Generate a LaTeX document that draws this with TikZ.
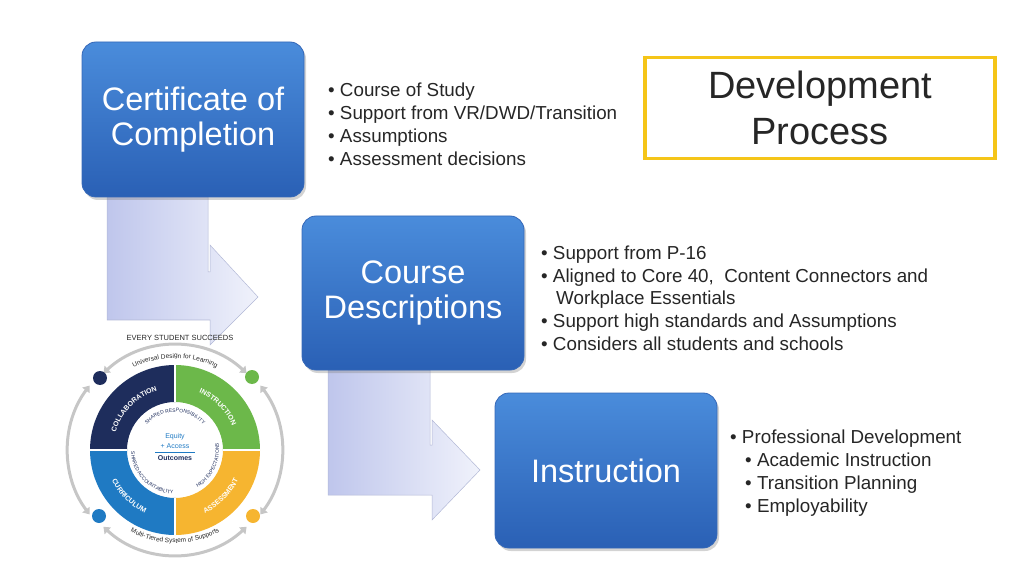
\documentclass[tikz,border=0pt]{standalone}
\usepackage{fontspec}
\setmainfont{Liberation Sans}
\usetikzlibrary{decorations.text,arrows.meta,shadows}
\definecolor{bxtop}{HTML}{4A8CDB}
\definecolor{bxbot}{HTML}{2A60B5}
\definecolor{bxdraw}{HTML}{3568B8}
\definecolor{arrl}{HTML}{BFC6EC}
\definecolor{arrr}{HTML}{F0F2FB}
\definecolor{navyq}{HTML}{1E2D5C}
\definecolor{greenq}{HTML}{6CB84A}
\definecolor{blueq}{HTML}{1F7AC3}
\definecolor{yellowq}{HTML}{F6B530}
\definecolor{goldb}{HTML}{F5C518}
\definecolor{txt}{HTML}{262626}
\begin{document}
\begin{tikzpicture}[x=1pt,y=1pt,
  bluebox/.style={rounded corners=14pt,top color=bxtop,bottom color=bxbot,draw=bxdraw,line width=0.8pt,
    drop shadow={shadow xshift=2pt,shadow yshift=-3pt,opacity=0.35},
    text=white,font=\fontsize{32.5}{35}\selectfont,align=center,inner sep=0pt},
  bl/.style={anchor=base west,yshift=-7pt,font=\fontsize{18.8}{20}\selectfont,text=txt,inner sep=0pt},
  bentarrow/.style={left color=arrl,right color=arrr,draw=arrl!80!gray,line width=0.5pt},
  ringtxt/.style={decorate,decoration={text along path,text align=center}}]
\useasboundingbox (0,0) rectangle (1024,576);
% bent arrows
\path[bentarrow] (107,379)--(208,379)--(208,304)--(210,304)--(210,331)--(258,279)--(210,231)--(210,256)--(107,256)--cycle;
\path[bentarrow] (328,206)--(430,206)--(430,131)--(432,131)--(432,156)--(480,106)--(432,56)--(432,81)--(328,81)--cycle;
% boxes
\node[bluebox,minimum width=222pt,minimum height=155pt] (cert) at (193,456.5) {Certificate of\\Completion};
\node[bluebox,minimum width=222pt,minimum height=154pt] (desc) at (413,283) {Course\\Descriptions};
\node[bluebox,minimum width=222pt,minimum height=155pt] (inst) at (606,105.5) {Instruction};
% title box
\node[draw=goldb,line width=3.5pt,minimum width=350pt,minimum height=101pt,fill=white,
  font=\fontsize{38}{46}\selectfont,text=txt,align=center] (title) at (820,468) {Development\\Process};
% bullets
\node[bl] (b1) at (328,486) {• Course of Study};
\node[bl] (b2) at (328,463) {• Support from VR/DWD/Transition};
\node[bl] (b3) at (328,440) {• Assumptions};
\node[bl] (b4) at (328,417) {• Assessment decisions};
\node[bl] (c1) at (541,323) {• Support from P-16};
\node[bl] (c2) at (541,300) {• Aligned to Core 40,\ \ Content Connectors and};
\node[bl] (c3) at (556,279) {Workplace Essentials};
\node[bl] (c4) at (541,256) {• Support high standards and Assumptions};
\node[bl] (c5) at (541,233) {• Considers all students and schools};
\node[bl] (d1) at (730,140) {• Professional Development};
\node[bl] (d2) at (745,117) {• Academic Instruction};
\node[bl] (d3) at (745,94) {• Transition Planning};
\node[bl] (d4) at (745,71) {• Employability};
% ESSA graphic
\node[font=\fontsize{7.5}{8}\selectfont,text=txt] (ess) at (180,238) {EVERY STUDENT SUCCEEDS};
\begin{scope}[shift={(175,126)}]
  \fill[navyq] (90:85) arc (90:180:85) -- (180:48) arc (180:90:48) -- cycle;
  \fill[greenq] (0:85) arc (0:90:85) -- (90:48) arc (90:0:48) -- cycle;
  \fill[blueq] (180:85) arc (180:270:85) -- (270:48) arc (270:180:48) -- cycle;
  \fill[yellowq] (270:85) arc (270:360:85) -- (0:48) arc (0:-90:48) -- cycle;
  \draw[white,line width=1.5pt] (0,48)--(0,85) (0,-48)--(0,-85) (48,0)--(85,0) (-48,0)--(-85,0);
  \path[ringtxt,decoration={text={|\fontsize{7}{7}\selectfont\bfseries\color{white}|COLLABORATION}}] (170:62) arc (170:100:62);
  \path[ringtxt,decoration={text={|\fontsize{7}{7}\selectfont\bfseries\color{white}|INSTRUCTION}}] (80:62) arc (80:10:62);
  \path[ringtxt,decoration={text={|\fontsize{7}{7}\selectfont\bfseries\color{white}|CURRICULUM}}] (190:70) arc (190:260:70);
  \path[ringtxt,decoration={text={|\fontsize{7}{7}\selectfont\bfseries\color{white}|ASSESSMENT}}] (280:70) arc (280:350:70);
  \path[ringtxt,decoration={text={|\fontsize{5}{5}\selectfont\color{navyq}|SHARED RESPONSIBILITY}}] (155:38) arc (155:25:38);
  \path[ringtxt,decoration={text={|\fontsize{5}{5}\selectfont\color{navyq}|HIGH EXPECTATIONS}}] (290:44) arc (290:380:44);
  \path[ringtxt,decoration={text={|\fontsize{5}{5}\selectfont\color{navyq}|SHARED ACCOUNTABILITY}}] (170:44) arc (170:280:44);
  \node[font=\fontsize{7}{7}\selectfont,text=blueq] (eq) at (0,13) {Equity};
  \node[font=\fontsize{7}{7}\selectfont,text=blueq] (acc) at (0,4) {+ Access};
  \draw[blueq,line width=0.6pt] (-20,-2)--(20,-2);
  \node[font=\fontsize{7}{7}\selectfont\bfseries,text=navyq] (out) at (0,-8) {Outcomes};
  \path[ringtxt,decoration={text={|\fontsize{6.5}{6.5}\selectfont\color{txt}|Universal Design for Learning}}] (135:92) arc (135:45:92);
  \path[ringtxt,decoration={text={|\fontsize{6.5}{6.5}\selectfont\color{txt}|Multi-Tiered System of Supports}}] (222:93) arc (222:318:93);
  \draw[gray!45,line width=3pt,{Triangle[length=6pt,width=9pt]}-{Triangle[length=6pt,width=9pt]}] (133:105) arc (133:47:105);
  \draw[gray!45,line width=3pt,{Triangle[length=6pt,width=9pt]}-{Triangle[length=6pt,width=9pt]}] (227:105) arc (227:313:105);
  \draw[gray!45,line width=3pt,{Triangle[length=6pt,width=9pt]}-{Triangle[length=6pt,width=9pt]}] (143:107) arc (143:217:107);
  \draw[gray!45,line width=3pt,{Triangle[length=6pt,width=9pt]}-{Triangle[length=6pt,width=9pt]}] (37:107) arc (37:-37:107);
  \fill[navyq] (-75,72) circle (7);
  \fill[greenq] (77,73) circle (7);
  \fill[blueq] (-76,-66) circle (7);
  \fill[yellowq] (78,-66) circle (7);
\end{scope}
\end{tikzpicture}
\end{document}
